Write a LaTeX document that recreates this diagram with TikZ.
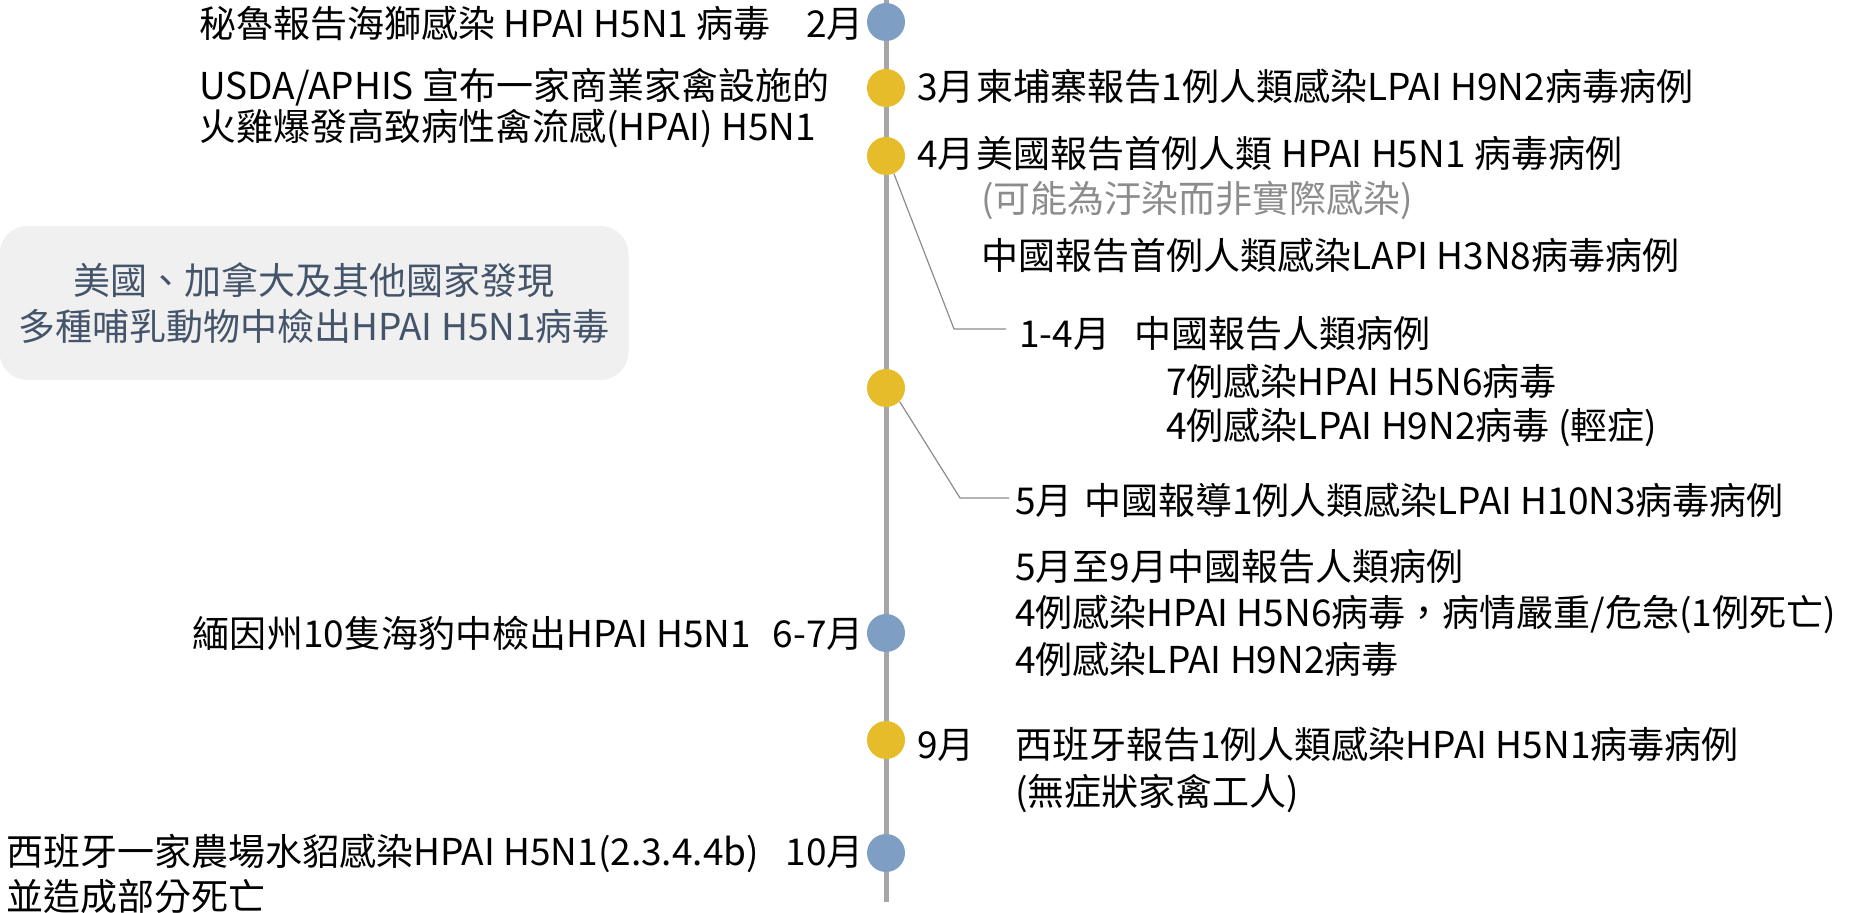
\documentclass[tikz,border=0pt]{standalone}
\usepackage{fontspec}
\setmainfont{Noto Sans CJK TC}
\definecolor{dotblue}{HTML}{7F9EC4}
\definecolor{dotyellow}{HTML}{E6BC2B}
\definecolor{tlgray}{HTML}{A6A6A6}
\definecolor{boxfill}{HTML}{F0F0F0}
\definecolor{boxtext}{HTML}{44546A}
\definecolor{graytext}{HTML}{8C8C8C}
\definecolor{conncol}{HTML}{8C8C8C}
\begin{document}
\begin{tikzpicture}[x=0.5pt,y=-0.5pt,
  txt/.style={inner sep=0pt, font=\fontsize{18.5pt}{23pt}\selectfont, anchor=base west},
  txtr/.style={txt, anchor=base east},
  bdot/.style={circle, fill=dotblue, minimum size=19pt, inner sep=0pt},
  ydot/.style={circle, fill=dotyellow, minimum size=19pt, inner sep=0pt},
  tl/.style={draw=tlgray, line width=2.5pt},
  connline/.style={draw=conncol, line width=0.6pt},
  mambox/.style={fill=boxfill, rounded corners=14pt, minimum width=314.5pt, minimum height=77pt, align=center, text=boxtext, inner sep=0pt, font=\fontsize{18.5pt}{23pt}\selectfont}]
\useasboundingbox (0,0) rectangle (1850,913);
% timeline
\coordinate (tltop) at (886,0);
\coordinate (tlbot) at (886,902);
\draw[tl] (tltop) -- (tlbot);
% dots
\node[bdot] (d2) at (886,22) {};
\node[ydot] (d3) at (886,88) {};
\node[ydot] (d4) at (886,156) {};
\node[ydot] (d5) at (886,388) {};
\node[bdot] (d67) at (886,633) {};
\node[ydot] (d9) at (886,740) {};
\node[bdot] (d10) at (886,853) {};
% left side
\node[txt] (l1) at (199,38) {秘魯報告海獅感染 HPAI H5N1 病毒};
\node[txtr] (m2) at (864,38) {2月};
\node[txt] (l2a) at (199,100) {USDA/APHIS 宣布一家商業家禽設施的};
\node[txt] (l2b) at (199,141) {火雞爆發高致病性禽流感(HPAI) H5N1};
\node[mambox] (mam) at (314,303) {美國、加拿大及其他國家發現\\多種哺乳動物中檢出HPAI H5N1病毒};
\node[txt] (l67) at (192,647) {緬因州10隻海豹中檢出HPAI H5N1};
\node[txtr] (m67) at (864,647) {6-7月};
\node[txt] (l10a) at (6,865) {西班牙一家農場水貂感染HPAI H5N1(2.3.4.4b)};
\node[txt] (l10b) at (6,910) {並造成部分死亡};
\node[txtr] (m10) at (864,865) {10月};
% right side
\node[txt] (r3) at (917,101) {3月\hspace{0.05em}柬埔寨報告1例人類感染LPAI H9N2病毒病例};
\node[txt] (r4) at (917,168) {4月\hspace{0.05em}美國報告首例人類 HPAI H5N1 病毒病例};
\node[txt, text=graytext] (r4b) at (981,213) {(可能為汙染而非實際感染)};
\node[txt] (r4c) at (981,270) {中國報告首例人類感染LAPI H3N8病毒病例};
\node[txt] (r14) at (1019,348) {1-4月\hspace{0.65em}中國報告人類病例};
\node[txt] (r14a) at (1166,396) {7例感染HPAI H5N6病毒};
\node[txt] (r14b) at (1166,440) {4例感染LPAI H9N2病毒 (輕症)};
\node[txt] (r5) at (1015,515) {5月\hspace{0.3em}中國報導1例人類感染LPAI H10N3病毒病例};
\node[txt] (r59) at (1015,581) {5月至9月中國報告人類病例};
\node[txt] (r59a) at (1015,626) {4例感染HPAI H5N6病毒，病情嚴重/危急(1例死亡)};
\node[txt] (r59b) at (1015,673) {4例感染LPAI H9N2病毒};
\node[txt] (m9) at (917,758) {9月};
\node[txt] (r9a) at (1015,758) {西班牙報告1例人類感染HPAI H5N1病毒病例};
\node[txt] (r9b) at (1015,805) {(無症狀家禽工人)};
% connectors
\coordinate (c1a) at (954,329);
\coordinate (c1b) at (1006,329);
\draw[connline] (d4.-66) -- (c1a) -- (c1b);
\coordinate (c2a) at (960,498);
\coordinate (c2b) at (1009,498);
\draw[connline] (d5.-45) -- (c2a) -- (c2b);
\end{tikzpicture}
\end{document}
